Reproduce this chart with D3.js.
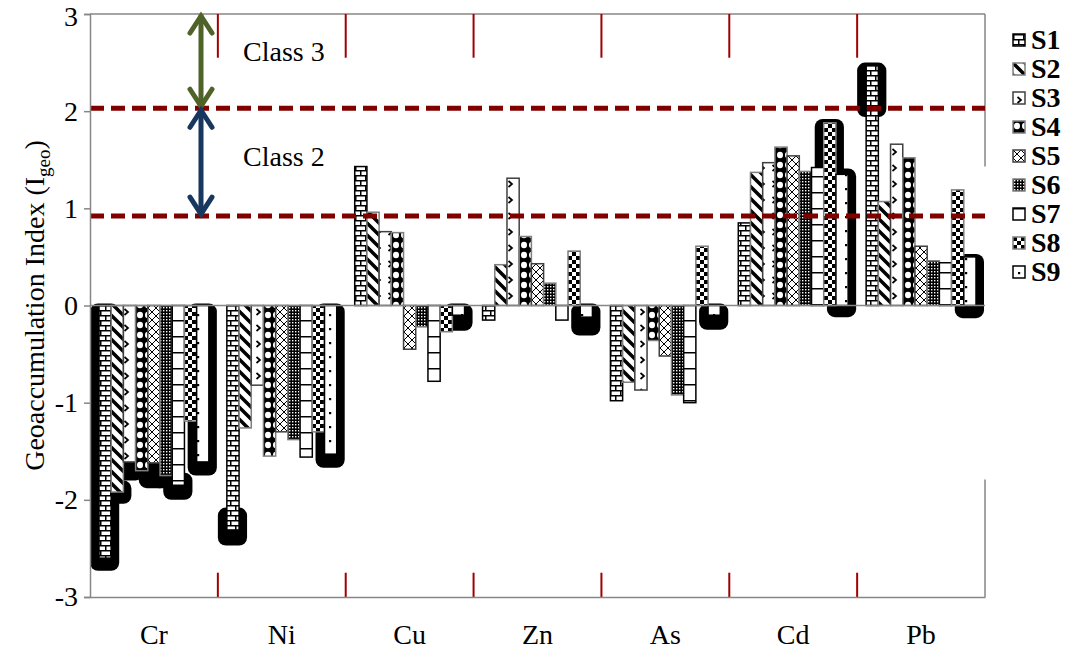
<!DOCTYPE html>
<html>
<head>
<meta charset="utf-8">
<script src="https://cdn.jsdelivr.net/npm/d3@7"></script>
<style>
  body { margin: 0; background: #fff; }
  text { font-family: "Liberation Serif", "Times New Roman", serif; fill: #000; }
</style>
</head>
<body>
<div id="chart"></div>
<script>
// categories and series
var categories = ["Cr", "Ni", "Cu", "Zn", "As", "Cd", "Pb"];
var seriesNames = ["S1", "S2", "S3", "S4", "S5", "S6", "S7", "S8", "S9"];

// Igeo values per series, one value per metal
var s1 = [-2.60, -2.31, 1.43, -0.15, -0.98, 0.85, 2.47];
var s2 = [-1.92, -1.26, 0.96, 0.42, -0.79, 1.37, 1.07];
var s3 = [-1.61, -0.82, 0.76, 1.31, -0.87, 1.47, 1.66];
var s4 = [-1.70, -1.55, 0.75, 0.71, -0.36, 1.63, 1.52];
var s5 = [-1.62, -1.30, -0.45, 0.43, -0.52, 1.54, 0.61];
var s6 = [-1.75, -1.38, -0.22, 0.23, -0.92, 1.38, 0.46];
var s7 = [-1.85, -1.56, -0.78, -0.15, -1.00, 1.42, 0.44];
var s8 = [-1.19, -1.30, -0.27, 0.56, 0.61, 1.88, 1.19];
var s9 = [-1.61, -1.53, -0.10, -0.12, -0.10, 1.35, 0.50];

// class limits (dashed lines) and tick labels
var classLimits = [0.92, 2.03];
var yTicks = [-3, -2, -1, 0, 1, 2, 3];

// dark shadow blobs seen behind some bars: [metal, series, from, to]
var shadows = [
	["Cr", "S1", 0.02, -2.73], ["Cr", "S2", -1.80, -2.04], ["Cr", "S3", -1.50, -1.80],
	["Cr", "S5", -1.50, -1.88], ["Cr", "S6", -1.60, -1.88], ["Cr", "S7", -1.72, -2.00],
	["Cr", "S9", 0.02, -1.75], ["Ni", "S1", -2.08, -2.47], ["Ni", "S9", 0.02, -1.67],
	["Cu", "S9", 0.02, -0.26], ["Zn", "S9", 0.02, -0.31], ["As", "S9", 0.02, -0.25],
	["Cd", "S8", 1.92, 0.00], ["Cd", "S9", 1.41, -0.12], ["Pb", "S1", 2.50, 1.94],
	["Pb", "S9", 0.53, -0.13]
];

var seriesValues = [s1, s2, s3, s4, s5, s6, s7, s8, s9];

// set the dimensions
var fullWidth = 1070, fullHeight = 650;
var plot = {left: 90, right: 985, top: 14, bottom: 597};

var svg = d3.select("#chart").append("svg")
	.attr("width", fullWidth)
	.attr("height", fullHeight);

// scales
var x0 = d3.scaleBand()
	.domain(categories)
	.range([plot.left, plot.right]);

var x1 = d3.scaleBand()
	.domain(seriesNames)
	.range([9, x0.bandwidth() - 9]);

var y = d3.scaleLinear()
	.domain([-3, 3])
	.range([plot.bottom, plot.top]);

// fill patterns, one per series
var defs = svg.append("defs");

function pattern(id, w, h, bg) {
	var p = defs.append("pattern")
		.attr("id", id)
		.attr("patternUnits", "userSpaceOnUse")
		.attr("width", w)
		.attr("height", h);
	p.append("rect").attr("width", w).attr("height", h).attr("fill", bg);
	return p;
}

// S1 horizontal brick
pattern("pat-S1", 10, 10, "#fff").append("path")
	.attr("d", "M0,0.75H10M0,5.75H10M0.75,0V5.75M5.75,5.75V10")
	.attr("stroke", "#000").attr("stroke-width", 1.5);

// S2 wide downward diagonal
pattern("pat-S2", 12, 12, "#fff").append("path")
	.attr("d", "M-3,-3L15,15M-3,9L3,15M9,-3L15,3")
	.attr("stroke", "#000").attr("stroke-width", 3.5);

// S3 small chevrons
pattern("pat-S3", 12, 16, "#fff").append("path")
	.attr("d", "M4.5,5L8,8L4.5,11")
	.attr("fill", "none").attr("stroke", "#000").attr("stroke-width", 1.7);

// S4 black with white ovals
pattern("pat-S4", 8, 10, "#000").append("ellipse")
	.attr("cx", 4).attr("cy", 5).attr("rx", 3).attr("ry", 3.2).attr("fill", "#fff");

// S5 dotted diamond
var p5 = pattern("pat-S5", 8, 8, "#fff");
d3.range(8).forEach(function(i) {
	p5.append("rect").attr("x", i).attr("y", i).attr("width", 1).attr("height", 1).attr("fill", "#000");
	p5.append("rect").attr("x", 7 - i).attr("y", i).attr("width", 1).attr("height", 1).attr("fill", "#000");
});

// S6 small grid
pattern("pat-S6", 3, 3, "#000").append("rect")
	.attr("x", 1).attr("y", 1).attr("width", 1.4).attr("height", 1.4).attr("fill", "#fff");

// S7 wide horizontal
pattern("pat-S7", 12, 16, "#fff").append("path")
	.attr("d", "M0,0.75H12")
	.attr("stroke", "#000").attr("stroke-width", 1.5);

// S8 small checker board
var p8 = pattern("pat-S8", 8, 8, "#fff");
p8.append("rect").attr("width", 4).attr("height", 4).attr("fill", "#000");
p8.append("rect").attr("x", 4).attr("y", 4).attr("width", 4).attr("height", 4).attr("fill", "#000");

// S9 sparse dots
pattern("pat-S9", 12, 14, "#fff").append("rect")
	.attr("x", 5).attr("y", 6).attr("width", 2.2).attr("height", 2.2).attr("fill", "#000");

var strokeColor = {S1: "#000", S2: "#7f7f7f", S3: "#404040", S4: "#7f7f7f", S5: "#404040",
	S6: "#7f7f7f", S7: "#000", S8: "#7f7f7f", S9: "#000"};

// plot area border (right edge is broken where the legend sits)
var frame = svg.append("g").attr("stroke", "#868686").attr("stroke-width", 1.5);
frame.append("line").attr("x1", plot.left).attr("x2", plot.right).attr("y1", y(3)).attr("y2", y(3));
frame.append("line").attr("x1", plot.right).attr("x2", plot.right).attr("y1", y(3)).attr("y2", y(1.43));
frame.append("line").attr("x1", plot.right).attr("x2", plot.right).attr("y1", y(-1.79)).attr("y2", y(-3));

// shadows behind the bars
svg.append("g")
	.selectAll("rect")
	.data(shadows)
	.enter().append("rect")
	.attr("x", function(d) { return x0(d[0]) + x1(d[1]) - 9; })
	.attr("y", function(d) { return y(Math.max(d[2], d[3])); })
	.attr("width", x1.bandwidth() + 17)
	.attr("height", function(d) { return Math.abs(y(d[2]) - y(d[3])); })
	.attr("rx", 8)
	.attr("fill", "#000");

// bars
var barData = [];
seriesNames.forEach(function(s, si) {
	categories.forEach(function(c, ci) {
		barData.push({cat: c, series: s, value: seriesValues[si][ci]});
	});
});

svg.append("g")
	.selectAll("rect")
	.data(barData)
	.enter().append("rect")
	.attr("x", function(d) { return x0(d.cat) + x1(d.series); })
	.attr("y", function(d) { return y(Math.max(0, d.value)); })
	.attr("width", x1.bandwidth())
	.attr("height", function(d) { return Math.abs(y(d.value) - y(0)); })
	.attr("fill", function(d) { return "url(#pat-" + d.series + ")"; })
	.attr("stroke", function(d) { return strokeColor[d.series]; })
	.attr("stroke-width", 1.5);

// zero line
svg.append("line")
	.attr("x1", plot.left).attr("x2", plot.right)
	.attr("y1", y(0)).attr("y2", y(0))
	.attr("stroke", "#868686").attr("stroke-width", 1.5);

// class limit lines
svg.append("g")
	.selectAll("line")
	.data(classLimits)
	.enter().append("line")
	.attr("x1", plot.left).attr("x2", plot.right)
	.attr("y1", function(d) { return y(d); })
	.attr("y2", function(d) { return y(d); })
	.attr("stroke", "#800000")
	.attr("stroke-width", 5)
	.attr("stroke-dasharray", "14,7");

// red category separators, top and bottom
var seps = categories.slice(1);
svg.append("g")
	.selectAll("line")
	.data(seps)
	.enter().append("line")
	.attr("x1", function(d) { return x0(d); })
	.attr("x2", function(d) { return x0(d); })
	.attr("y1", y(3)).attr("y2", y(2.55))
	.attr("stroke", "#a00000").attr("stroke-width", 2);

svg.append("g")
	.selectAll("line")
	.data(seps)
	.enter().append("line")
	.attr("x1", function(d) { return x0(d); })
	.attr("x2", function(d) { return x0(d); })
	.attr("y1", y(-2.75)).attr("y2", y(-3))
	.attr("stroke", "#a00000").attr("stroke-width", 2);

// x axis (labels only, with the frame line)
var xAxis = svg.append("g")
	.attr("transform", "translate(0," + plot.bottom + ")")
	.call(d3.axisBottom(x0).tickSize(0).tickPadding(27));
xAxis.select(".domain").attr("stroke", "#868686").attr("stroke-width", 1.5);
xAxis.selectAll("text")
	.style("font-family", "'Liberation Serif', serif")
	.style("font-size", "28px");

// y axis, plain hyphen for negatives
var yAxis = svg.append("g")
	.attr("transform", "translate(" + plot.left + ",0)")
	.call(d3.axisLeft(y).tickValues(yTicks).tickSize(6).tickPadding(6)
		.tickFormat(function(d) { return String(d); }));
yAxis.select(".domain").attr("stroke", "#868686").attr("stroke-width", 1.5);
yAxis.selectAll(".tick line").attr("stroke", "#868686").attr("stroke-width", 1.5);
yAxis.selectAll("text")
	.style("font-family", "'Liberation Serif', serif")
	.style("font-size", "28px");
// keep the top label inside the page
yAxis.selectAll("text")
	.filter(function(d) { return d === 3; })
	.attr("dy", "0.42em");

// y axis title with subscript
var yTitle = svg.append("text")
	.attr("transform", "rotate(-90)")
	.attr("x", -y(0))
	.attr("y", 44)
	.attr("text-anchor", "middle")
	.style("font-size", "28px");
yTitle.append("tspan").text("Geoaccumulation Index (I");
yTitle.append("tspan").attr("dy", 6).style("font-size", "19px").text("geo");
yTitle.append("tspan").attr("dy", -6).text(")");

// class arrows
var arrowX = x0("Cr") + 111;
function drawArrow(top, bottom, color) {
	var g = svg.append("g")
		.attr("fill", "none")
		.attr("stroke", color)
		.attr("stroke-width", 5)
		.attr("stroke-linecap", "round");
	g.append("path")
		.attr("d", "M" + arrowX + "," + (top + 2) + "V" + (bottom - 2));
	g.append("path")
		.attr("d", "M" + (arrowX - 11) + "," + (top + 19) + "L" + arrowX + "," + (top + 2) + "L" + (arrowX + 11) + "," + (top + 19));
	g.append("path")
		.attr("d", "M" + (arrowX - 11) + "," + (bottom - 19) + "L" + arrowX + "," + (bottom - 2) + "L" + (arrowX + 11) + "," + (bottom - 19));
}
drawArrow(y(3), y(classLimits[1]), "#4f6228");
drawArrow(y(classLimits[1]), y(classLimits[0]), "#17375e");

svg.append("text")
	.attr("x", arrowX + 42).attr("y", y(2.52))
	.style("font-size", "28px")
	.text("Class 3");

svg.append("text")
	.attr("x", arrowX + 42).attr("y", y(1.44))
	.style("font-size", "28px")
	.text("Class 2");

// legend
var legend = svg.append("g")
	.attr("transform", "translate(1013,34)");

var item = legend.selectAll("g")
	.data(seriesNames)
	.enter().append("g")
	.attr("transform", function(d, i) { return "translate(0," + (i * 29) + ")"; });

item.append("rect")
	.attr("width", 12).attr("height", 12)
	.attr("fill", function(d) { return "url(#pat-" + d + ")"; })
	.attr("stroke", function(d) { return strokeColor[d]; })
	.attr("stroke-width", 1.5);

item.append("text")
	.attr("x", 18).attr("y", 15)
	.style("font-size", "28px")
	.style("font-weight", "bold")
	.text(function(d) { return d; });
</script>
</body>
</html>
